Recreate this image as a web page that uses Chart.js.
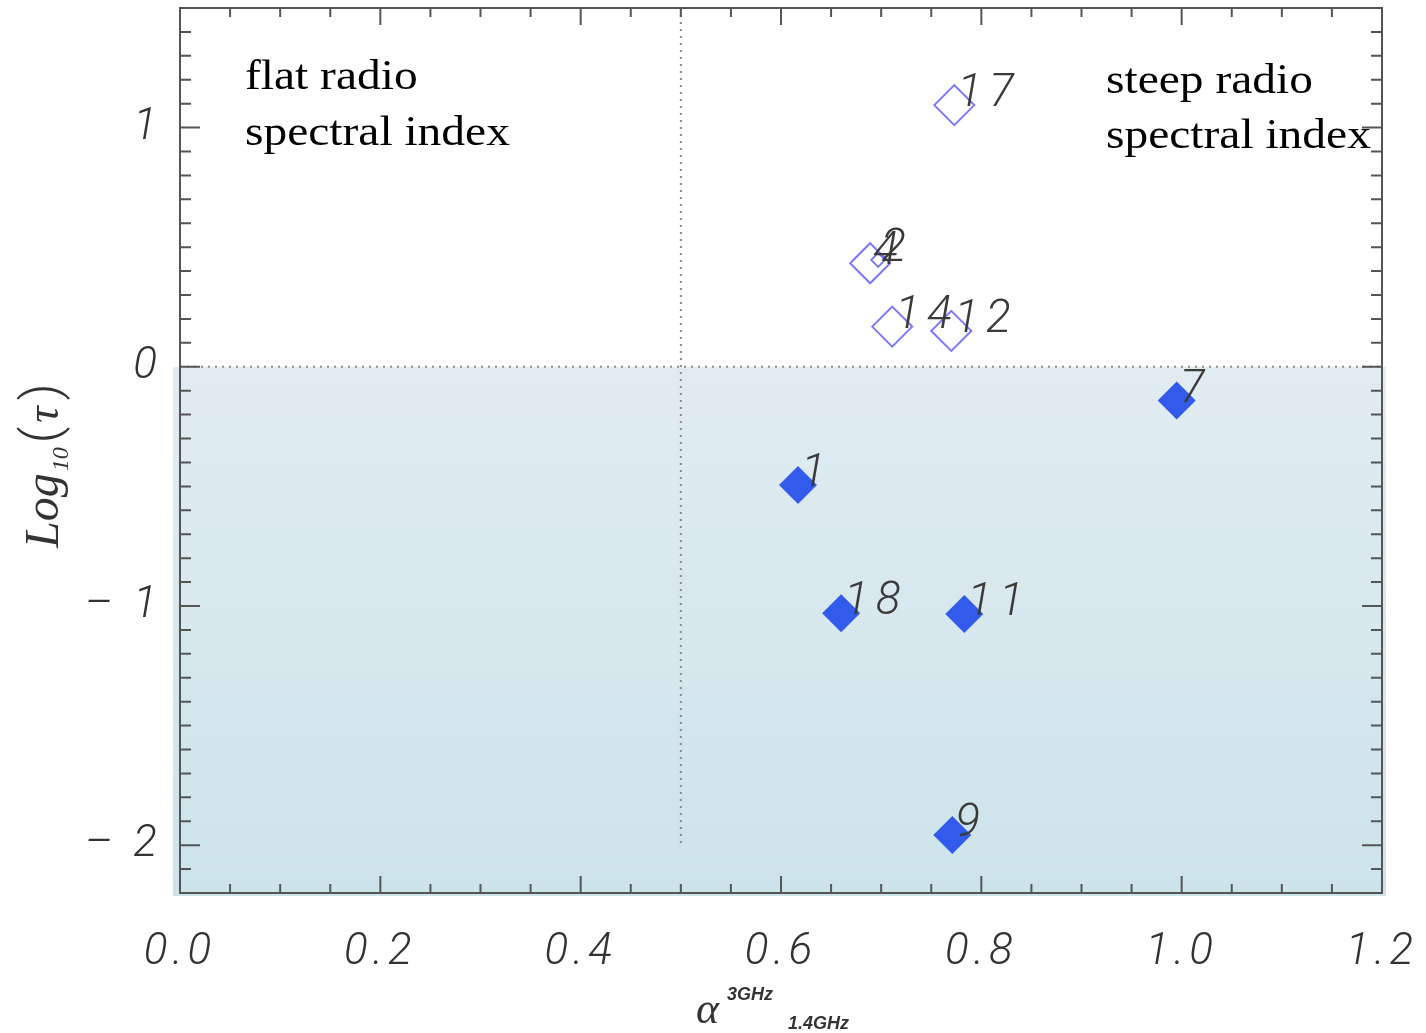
<!DOCTYPE html>
<html>
<head>
<meta charset="utf-8">
<script src="https://cdn.jsdelivr.net/npm/chart.js@4/dist/chart.umd.min.js"></script>
<style>
  html, body { margin: 0; padding: 0; background: #fff; }
</style>
</head>
<body>
<canvas id="tauChart" width="1426" height="1033"></canvas>
<script>
// open diamonds: Log10(tau) > 0
const openIds = ['17', '4', '2', '14', '12'];
const openAlpha = [0.773, 0.689, 0.697, 0.711, 0.770];
const openLogTau = [1.094, 0.433, 0.447, 0.168, 0.150];
const openSize = [20, 20, 7, 20, 20];

// filled diamonds: Log10(tau) < 0
const filledIds = ['7', '1', '18', '11', '9'];
const filledAlpha = [0.995, 0.617, 0.660, 0.783, 0.771];
const filledLogTau = [-0.141, -0.494, -1.030, -1.034, -1.957];

const xTicks = [0.0, 0.2, 0.4, 0.6, 0.8, 1.0, 1.2];
const yTicks = [-2, -1, 0, 1];

const tickFont = { family: 'Roboto, "Liberation Sans", sans-serif', size: 44, style: 'italic', weight: '300' };

const toPoints = (xs, ys) => xs.map((x, i) => ({ x: x, y: ys[i] }));

const decorations = {
  id: 'decorations',
  beforeDraw(chart) {
    const { ctx, chartArea: a, scales: { x, y } } = chart;
    // shaded lower half
    const y0 = y.getPixelForValue(0);
    const g = ctx.createLinearGradient(0, y0, 0, a.bottom);
    g.addColorStop(0, 'rgb(225,236,242)');
    g.addColorStop(1, 'rgb(205,227,234)');
    ctx.save();
    ctx.fillStyle = g;
    ctx.fillRect(a.left - 7, y0, a.right - a.left + 11, a.bottom - y0 + 3);
    ctx.restore();
    // wider spacing for the tick labels drawn next
    ctx.letterSpacing = '5px';
  },
  beforeDatasetsDraw(chart) {
    const { ctx, chartArea: a, scales: { x, y } } = chart;
    ctx.letterSpacing = '0px';
    ctx.save();
    // dotted guide lines
    ctx.strokeStyle = '#8a8a8a';
    ctx.lineWidth = 2;
    ctx.setLineDash([2, 5]);
    const y0 = y.getPixelForValue(0);
    ctx.beginPath();
    ctx.moveTo(a.left, y0);
    ctx.lineTo(a.right, y0);
    const xh = x.getPixelForValue(0.5);
    ctx.moveTo(xh, a.top);
    ctx.lineTo(xh, y.getPixelForValue(-2));
    ctx.stroke();
    ctx.setLineDash([]);

    // frame
    ctx.strokeStyle = '#555';
    ctx.lineWidth = 2;
    ctx.strokeRect(a.left, a.top, a.right - a.left, a.bottom - a.top);

    // inward ticks
    ctx.beginPath();
    for (let i = 0; i <= 24; i++) {
      const px = x.getPixelForValue(i * 0.05);
      const len = i % 4 === 0 ? 17 : 9;
      ctx.moveTo(px, a.bottom); ctx.lineTo(px, a.bottom - len);
      ctx.moveTo(px, a.top); ctx.lineTo(px, a.top + len);
    }
    for (let i = -22; i <= 15; i++) {
      const py = y.getPixelForValue(i / 10);
      const len = i % 10 === 0 ? 20 : 11;
      ctx.moveTo(a.left, py); ctx.lineTo(a.left + len, py);
      ctx.moveTo(a.right, py); ctx.lineTo(a.right - len, py);
    }
    ctx.stroke();
    ctx.restore();
  },
  afterDatasetsDraw(chart) {
    const { ctx } = chart;
    ctx.save();
    ctx.font = 'italic 300 46px Roboto, "Liberation Sans", sans-serif';
    ctx.fillStyle = '#3a3a3a';
    ctx.textAlign = 'left';
    ctx.textBaseline = 'alphabetic';
    ctx.letterSpacing = '7px';
    chart.data.datasets.forEach((ds, di) => {
      const meta = chart.getDatasetMeta(di);
      meta.data.forEach((pt, i) => {
        ctx.fillText(ds.ids[i], pt.x + 3, pt.y + 1);
      });
    });
    ctx.letterSpacing = '0px';

    // region notes
    const note = (txt, x, y) => {
      ctx.save();
      ctx.translate(x, y);
      ctx.scale(1.13, 1);
      ctx.fillText(txt, 0, 0);
      ctx.restore();
    };
    ctx.font = '42px "Liberation Serif", "DejaVu Serif", serif';
    ctx.fillStyle = '#000';
    note('flat radio', 245, 89);
    note('spectral index', 245, 145);
    note('steep radio', 1106, 93);
    note('spectral index', 1106, 148);

    // x axis title
    ctx.fillStyle = '#333';
    ctx.font = 'italic 44px "Liberation Serif", serif';
    ctx.fillText('\u03b1', 696, 1023);
    ctx.font = 'italic bold 18px "Liberation Sans", sans-serif';
    ctx.fillText('3GHz', 727, 1000);
    ctx.fillText('1.4GHz', 788, 1029);

    // y axis title
    ctx.save();
    ctx.translate(58, 548);
    ctx.rotate(-Math.PI / 2);
    ctx.font = 'italic 48px "Liberation Serif", serif';
    ctx.fillText('Log', 0, 0);
    let w = ctx.measureText('Log').width;
    ctx.font = 'italic 24px "Liberation Serif", serif';
    ctx.fillText('10', w + 2, 10);
    w += ctx.measureText('10').width + 6;
    ctx.font = '300 52px Roboto, "Liberation Sans", sans-serif';
    ctx.fillText('(', w, 0);
    w += ctx.measureText('(').width + 4;
    ctx.font = 'italic 46px "Liberation Serif", serif';
    ctx.fillText('\u03c4', w, 0);
    w += ctx.measureText('\u03c4').width + 6;
    ctx.font = '300 52px Roboto, "Liberation Sans", sans-serif';
    ctx.fillText(')', w, 0);
    ctx.restore();
    ctx.restore();
  }
};

const ctx = document.getElementById('tauChart').getContext('2d');
new Chart(ctx, {
  type: 'scatter',
  data: {
    datasets: [
      {
        label: 'tau > 1',
        ids: openIds,
        data: toPoints(openAlpha, openLogTau),
        pointStyle: 'rectRot',
        pointRadius: openSize,
        borderColor: 'rgb(125,120,250)',
        borderWidth: 2,
        backgroundColor: 'rgba(0,0,0,0)'
      },
      {
        label: 'tau < 1',
        ids: filledIds,
        data: toPoints(filledAlpha, filledLogTau),
        pointStyle: 'rectRot',
        pointRadius: 19,
        borderWidth: 0,
        backgroundColor: 'rgb(50,90,235)'
      }
    ]
  },
  options: {
    responsive: false,
    animation: false,
    layout: { autoPadding: false, padding: { top: 8, right: 44, left: 0, bottom: 0 } },
    plugins: { legend: { display: false }, tooltip: { enabled: false } },
    scales: {
      x: {
        type: 'linear',
        min: 0,
        max: 1.2,
        afterFit: s => { s.height = 140; s.paddingLeft = 0; s.paddingRight = 0; },
        afterBuildTicks: s => { s.ticks = xTicks.map(v => ({ value: v })); },
        grid: { display: false, drawTicks: false },
        border: { display: false },
        ticks: {
          padding: 34,
          font: tickFont,
          color: '#333',
          maxRotation: 0,
          autoSkip: false,
          callback: v => Number(v).toFixed(1)
        }
      },
      y: {
        type: 'linear',
        min: -2.2,
        max: 1.5,
        afterFit: s => { s.width = 180; s.paddingTop = 0; s.paddingBottom = 0; },
        afterBuildTicks: s => { s.ticks = yTicks.map(v => ({ value: v })); },
        grid: { display: false, drawTicks: false },
        border: { display: false },
        ticks: {
          padding: 18,
          font: tickFont,
          color: '#333',
          autoSkip: false,
          callback: v => v < 0 ? '\u2013 ' + Math.abs(v) : String(v)
        }
      }
    }
  },
  plugins: [decorations]
});
</script>
</body>
</html>
